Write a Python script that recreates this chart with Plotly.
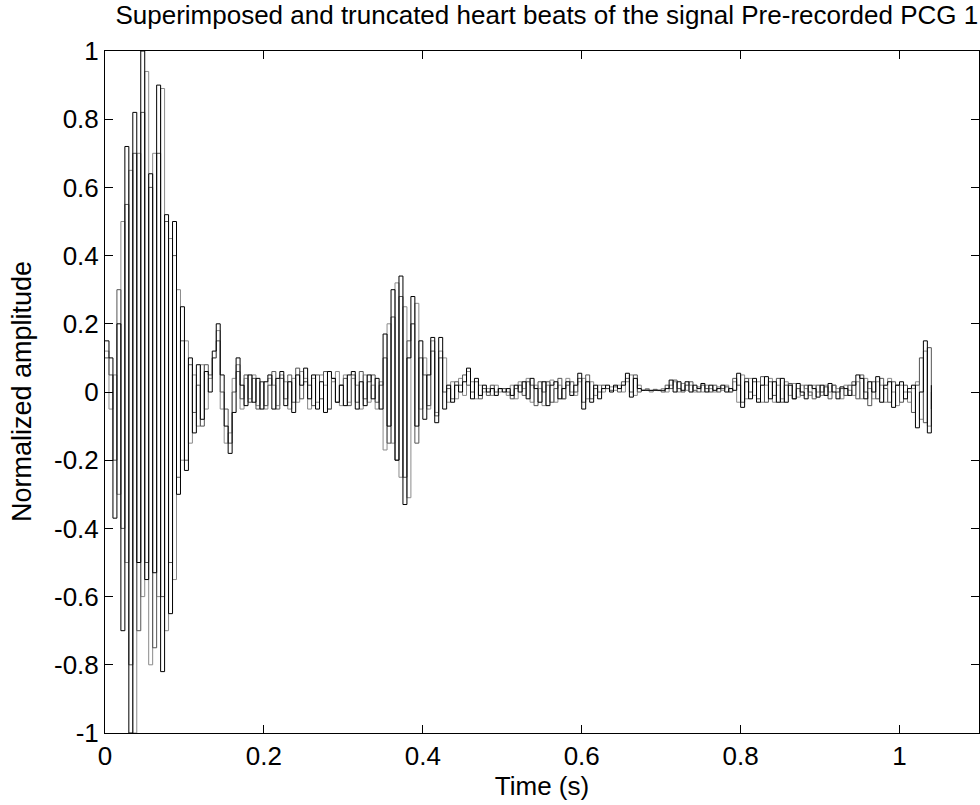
import plotly.graph_objects as go

# Sampling step of the superimposed beats (s)
dt = 0.005

beat_a = [
    0.15, 0.1, -0.37, 0.2, -0.7, 0.72, -1.0, 0.82, -0.5, 1.0,
    -0.55, 0.64, -0.53, 0.9, -0.82, 0.52, -0.65, 0.5, -0.3, 0.25,
    -0.23, 0.1, -0.12, 0.08, -0.08, 0.06, 0.0, 0.12, 0.2, 0.05,
    -0.1, -0.18, -0.06, 0.1, 0.02, -0.04, 0.05, -0.03, 0.04, -0.05,
    0.03, 0.05, -0.05, 0.04, 0.06, -0.04, 0.03, -0.06, 0.05, 0.02,
    0.07, -0.02, 0.05, -0.05, 0.03, -0.06, 0.06, 0.04, -0.03, 0.02,
    -0.04, 0.05, 0.06, -0.05, 0.03, -0.04, 0.05, -0.02, 0.04, -0.05,
    0.17, -0.1, 0.3, -0.2, 0.34, -0.33, 0.1, 0.28, -0.1, 0.15,
    -0.08, 0.05, 0.16, -0.09, 0.16, -0.05, 0.02, -0.03, 0.02, 0.0,
    0.03, 0.07, -0.02, 0.04, -0.01, 0.02, 0.0, 0.01, -0.01, 0.01,
    0.0, 0.01, -0.01, 0.02, 0.0, 0.03, -0.02, 0.04, 0.01, -0.03,
    0.03, -0.04, 0.02, 0.03, -0.02, 0.01, 0.03, -0.01, 0.02, 0.055,
    -0.05, 0.03, -0.03, 0.02, -0.02, 0.01, 0.02, 0.0, 0.02, 0.01,
    0.02, 0.055, -0.015, 0.04, 0.01, 0.005, 0.005, 0.005, 0.005, 0.005,
    0.005, 0.01, 0.035, 0.0, 0.03, 0.005, 0.03, 0.0, 0.02, 0.01,
    0.025, 0.0, 0.02, 0.005, 0.01, 0.02, 0.0, 0.01, 0.005, 0.055,
    -0.045, 0.03, -0.02, 0.04, -0.03, 0.02, 0.045, -0.02, 0.03, -0.03,
    0.04, -0.03, 0.02, -0.02, 0.025, 0.0, -0.02, 0.02, 0.01, -0.015,
    0.02, -0.01, 0.025, 0.0, -0.02, 0.015, 0.01, -0.01, 0.02, 0.05,
    0.04, -0.02, 0.03, 0.0, 0.045, -0.03, 0.02, 0.03, -0.045, 0.02,
    0.03, -0.02, 0.01, 0.02, -0.105, 0.0, 0.15, -0.12, 0.02,
]

beat_b = [
    0.12, -0.05, 0.05, -0.3, 0.5, -0.5, 0.65, -1.0, 0.7, -0.6,
    0.94, -0.8, 0.7, -0.6, 0.89, -0.7, 0.45, -0.55, 0.3, -0.2,
    0.15, -0.15, 0.05, -0.1, 0.08, -0.05, 0.04, 0.1, 0.18, -0.05,
    -0.15, -0.12, 0.04, 0.08, -0.05, 0.04, -0.02, 0.05, -0.04, 0.03,
    -0.05, 0.04, 0.02, -0.04, 0.05, 0.03, -0.05, 0.04, -0.03, 0.06,
    0.04, -0.05, 0.04, -0.03, 0.05, 0.02, -0.05, 0.03, 0.06, -0.04,
    0.05, -0.03, 0.04, 0.02, -0.05, 0.05, -0.03, 0.02, -0.05, 0.03,
    -0.17, 0.2, -0.15, 0.32, -0.25, 0.25, -0.31, 0.2, 0.26, -0.05,
    0.1, -0.05, 0.15, -0.06, 0.12, 0.1, -0.03, 0.03, -0.02, 0.04,
    -0.01, 0.06, 0.03, -0.02, 0.02, 0.0, 0.01, -0.01, 0.02, 0.0,
    0.01, -0.01, 0.02, -0.02, 0.03, 0.01, 0.04, -0.03, 0.02, 0.01,
    -0.04, 0.02, 0.035, -0.03, 0.02, -0.02, 0.04, 0.0, -0.01, 0.03,
    0.04, -0.02, 0.03, -0.01, 0.02, 0.0, 0.01, 0.015, 0.005, 0.02,
    0.0, 0.03, 0.05, -0.01, 0.02, 0.005, 0.01, 0.0, 0.008, 0.004,
    0.01, 0.0, 0.02, 0.03, 0.0, 0.025, 0.005, 0.02, 0.0, 0.015,
    0.0, 0.02, 0.01, 0.0, 0.015, 0.005, 0.02, 0.0, 0.03, -0.03,
    0.05, -0.02, 0.04, -0.01, 0.03, -0.03, 0.02, 0.04, -0.03, 0.02,
    -0.02, 0.03, -0.01, 0.025, -0.015, 0.02, 0.01, -0.01, 0.02, 0.0,
    -0.01, 0.02, 0.0, 0.02, 0.01, -0.02, 0.02, 0.005, -0.01, 0.03,
    -0.02, 0.04, 0.01, -0.02, 0.03, 0.02, -0.03, 0.04, 0.0, -0.04,
    0.02, 0.0, -0.03, 0.01, 0.03, -0.08, 0.12, -0.1, 0.0,
]

beat_c = [
    0.1, 0.05, -0.2, 0.3, -0.4, 0.55, -0.8, 0.7, -0.7, 0.82,
    -0.5, 0.6, -0.75, 0.7, -0.6, 0.5, -0.5, 0.4, -0.25, 0.15,
    -0.2, 0.08, -0.06, 0.02, -0.1, 0.08, 0.05, 0.1, 0.15, 0.0,
    -0.05, -0.15, 0.0, 0.06, -0.02, 0.05, -0.03, 0.04, -0.05, 0.03,
    -0.04, 0.02, 0.06, -0.05, 0.04, -0.02, 0.05, -0.03, 0.07, -0.02,
    0.03, 0.02, -0.04, 0.05, -0.02, 0.06, -0.05, 0.04, -0.03, 0.02,
    0.04, -0.04, 0.05, -0.03, 0.06, -0.02, 0.03, 0.05, -0.03, 0.02,
    0.1, -0.15, 0.22, -0.2, 0.28, -0.25, 0.15, 0.2, -0.15, 0.1,
    0.05, -0.04, 0.12, -0.07, 0.1, 0.0, 0.01, -0.02, 0.03, 0.02,
    0.05, 0.02, 0.0, 0.03, -0.02, 0.01, -0.01, 0.02, 0.0, 0.01,
    0.01, 0.0, -0.02, 0.01, 0.02, -0.01, 0.03, 0.02, -0.04, 0.03,
    0.0, 0.03, -0.03, 0.01, 0.04, -0.02, 0.02, 0.03, 0.0, 0.04,
    -0.03, 0.05, -0.02, 0.01, 0.0, 0.02, 0.01, 0.005, 0.015, 0.0,
    0.03, 0.04, 0.0, 0.05, 0.0, 0.005, 0.006, 0.004, 0.006, 0.005,
    0.0, 0.02, 0.01, 0.035, 0.01, 0.0, 0.02, 0.03, 0.005, 0.0,
    0.02, 0.01, 0.0, 0.02, 0.0, 0.01, 0.015, 0.0, 0.04, 0.02,
    -0.03, 0.04, 0.0, 0.03, -0.02, 0.045, -0.03, 0.03, -0.01, 0.04,
    -0.03, 0.02, 0.025, -0.02, 0.01, -0.01, 0.02, 0.0, -0.02, 0.02,
    0.0, 0.015, -0.02, 0.02, 0.0, 0.01, -0.01, 0.02, 0.03, -0.02,
    0.05, 0.0, -0.04, 0.03, -0.02, 0.04, 0.01, -0.03, 0.03, 0.02,
    -0.03, 0.02, 0.0, -0.06, 0.02, 0.1, -0.09, 0.13, -0.05,
]

x_tickvals = [0, 0.2, 0.4, 0.6, 0.8, 1.0]
x_ticktext = ["0", "0.2", "0.4", "0.6", "0.8", "1"]
y_tickvals = [-1, -0.8, -0.6, -0.4, -0.2, 0, 0.2, 0.4, 0.6, 0.8, 1]
y_ticktext = ["-1", "-0.8", "-0.6", "-0.4", "-0.2", "0", "0.2", "0.4", "0.6", "0.8", "1"]

FONT = "Liberation Sans, Arial, sans-serif"

fig = go.Figure()
for vals, col in [(beat_b, "#8a8a8a"), (beat_c, "#555555"), (beat_a, "#000000")]:
    t = [round(i * dt, 4) for i in range(len(vals))]
    fig.add_trace(go.Scatter(x=t, y=vals, mode="lines", line=dict(color=col, width=1, shape="hv"),
                             showlegend=False, hoverinfo="skip"))

axis_common = dict(showline=True, linecolor="black", linewidth=1, mirror="ticks",
                   ticks="inside", ticklen=8, tickcolor="black", tickwidth=1,
                   showgrid=False, zeroline=False,
                   tickfont=dict(family=FONT, size=26, color="black"))

fig.update_layout(
    width=980, height=805,
    margin=dict(l=105, r=1, t=51, b=72),
    paper_bgcolor="white", plot_bgcolor="white",
    title=dict(text="Superimposed and truncated heart beats of the signal Pre-recorded PCG 1",
               x=0.558, xanchor="center", y=0.982, yanchor="middle",
               font=dict(family=FONT, size=26, color="black")),
    xaxis=dict(range=[0, 1.1], tickvals=x_tickvals, ticktext=x_ticktext,
               title=dict(text="Time (s)", font=dict(family=FONT, size=26, color="black"), standoff=4),
               **axis_common),
    yaxis=dict(range=[-1, 1], tickvals=y_tickvals, ticktext=y_ticktext, **axis_common),
    annotations=[dict(text="Normalized amplitude", textangle=-90, showarrow=False,
                      xref="paper", yref="paper", x=(22 - 105) / 874, y=0.5,
                      xanchor="center", yanchor="middle",
                      font=dict(family=FONT, size=27, color="black"))],
)

fig.write_html("out.html")
